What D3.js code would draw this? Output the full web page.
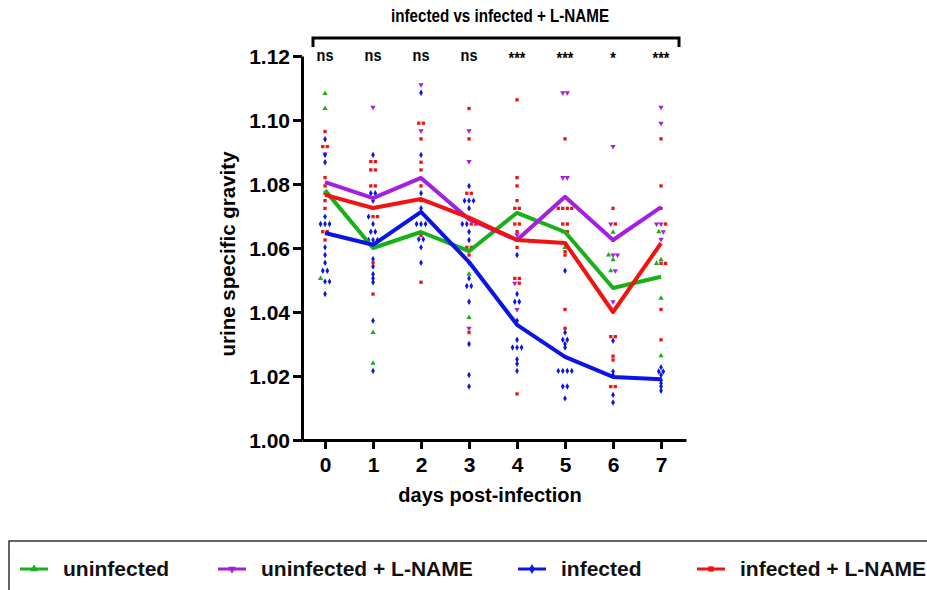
<!DOCTYPE html>
<html>
<head>
<meta charset="utf-8">
<script src="https://cdn.jsdelivr.net/npm/d3@7"></script>
<style>
  body { margin: 0; background: #fff; }
  svg { display: block; font-family: "Liberation Sans", Arial, sans-serif; }
</style>
</head>
<body>
<div id="chart"></div>
<script>
// data
const days = [0, 1, 2, 3, 4, 5, 6, 7];
const yTicks = [1.00, 1.02, 1.04, 1.06, 1.08, 1.10, 1.12];
const sigLabels = ["ns", "ns", "ns", "ns", "***", "***", "*", "***"];
const groupNames = ["uninfected", "uninfected + L-NAME", "infected", "infected + L-NAME"];
const groupColors = ["#17b017", "#a41fe0", "#0a14e6", "#f21212"];

// group means per day
const meanUninf  = [1.078, 1.060, 1.065, 1.059, 1.071, 1.065, 1.0475, 1.051];
const meanUninfL = [1.0806, 1.0756, 1.0819, 1.069, 1.0625, 1.076, 1.0625, 1.0728];
const meanInf    = [1.0647, 1.061, 1.0713, 1.0556, 1.036, 1.026, 1.0197, 1.019];
const meanInfL   = [1.0766, 1.0725, 1.0753, 1.0695, 1.0625, 1.0616, 1.040, 1.0615];

// individual animals per day
const ptsUninf = [
  [1.1083, 1.1036, 1.0505],
  [1.0336, 1.0240],
  [],
  [1.0518, 1.0383],
  [],
  [1.0602],
  [1.0649, 1.0578, 1.0563, 1.0529],
  [1.0651, 1.0563, 1.0552, 1.0443, 1.0263]
];
const ptsUninfL = [
  [1.0894],
  [1.104],
  [1.111, 1.0966],
  [1.0966, 1.087, 1.0349],
  [1.0641, 1.049, 1.0408],
  [1.1085, 1.1085, 1.082, 1.082],
  [1.0917, 1.0675, 1.0578, 1.0578, 1.0529, 1.0432],
  [1.104, 1.099, 1.0675, 1.0675, 1.0651, 1.0627]
];
const ptsInf = [
  [1.094, 1.0891, 1.0868, 1.0698, 1.0675, 1.0675, 1.0675, 1.0602, 1.0578, 1.0554, 1.0529, 1.0529, 1.0495, 1.0495, 1.0456],
  [1.0891, 1.0771, 1.0771, 1.0748, 1.0698, 1.0675, 1.0651, 1.0651, 1.0625, 1.0625, 1.0625, 1.0566, 1.0542, 1.0518, 1.0505, 1.0493, 1.0373, 1.0216],
  [1.1085, 1.0891, 1.0771, 1.0724, 1.0675, 1.0675, 1.0675, 1.0627, 1.0627, 1.0602, 1.0554],
  [1.0794, 1.0748, 1.0748, 1.0748, 1.0724, 1.0675, 1.0675, 1.0651, 1.0625, 1.0554, 1.0505, 1.0481, 1.0481, 1.0432, 1.030, 1.0203, 1.0167],
  [1.0578, 1.0456, 1.0432, 1.0432, 1.0373, 1.0313, 1.0289, 1.0289, 1.0289, 1.0252, 1.0238, 1.0216],
  [1.0529, 1.0336, 1.0313, 1.0313, 1.030, 1.0289, 1.0216, 1.0216, 1.0216, 1.0216, 1.0167, 1.0167, 1.013],
  [1.031, 1.0214, 1.0203, 1.0141, 1.0117],
  [1.0227, 1.0214, 1.0214, 1.0203, 1.0187, 1.0177, 1.0167, 1.0154]
];
const ptsInfL = [
  [1.0964, 1.0917, 1.0917, 1.082, 1.0794, 1.0771, 1.0748, 1.0724, 1.0651, 1.0651, 1.0625],
  [1.087, 1.087, 1.0844, 1.0844, 1.0794, 1.0794, 1.0724, 1.0698, 1.0698, 1.0554, 1.0456],
  [1.099, 1.099, 1.0941, 1.0868, 1.0844, 1.0794, 1.0748, 1.0639, 1.0493],
  [1.1036, 1.0941, 1.0771, 1.0771, 1.0675, 1.0675, 1.0602, 1.0602, 1.0578, 1.0336],
  [1.1063, 1.082, 1.0794, 1.0748, 1.0724, 1.0724, 1.0675, 1.0675, 1.0651, 1.0627, 1.0602, 1.0505, 1.0505, 1.049, 1.0144],
  [1.0941, 1.0724, 1.0724, 1.0724, 1.0724, 1.0675, 1.0675, 1.0651, 1.0651, 1.0589, 1.0578, 1.0408, 1.0349],
  [1.0724, 1.0675, 1.0625, 1.0323, 1.0323, 1.0262, 1.025, 1.0167, 1.0167],
  [1.0941, 1.0794, 1.0724, 1.0675, 1.0552, 1.0552, 1.0408, 1.0313]
];

const means = [meanUninf, meanUninfL, meanInf, meanInfL];
const points = [ptsUninf, ptsUninfL, ptsInf, ptsInfL];
const symbols = [d3.symbolTriangle, d3.symbolTriangle, d3.symbolDiamond, d3.symbolSquare];

const W = 927, H = 590;
const svg = d3.select('#chart').append('svg')
  .attr('width', W).attr('height', H);

const x = d3.scaleLinear().domain([-0.48, 7.52]).range([302, 686]);
const y = d3.scaleLinear().domain([1.00, 1.12]).range([440, 56]);

// points, spread sideways when they share a row
days.forEach(day => {
  const all = [];
  points.forEach((grp, gi) => grp[day].forEach(v => all.push({g: gi, v: v})));
  const rows = d3.group(all, d => Math.round(y(d.v) / 4));
  rows.forEach(list => {
    list.forEach((d, i) => {
      const dx = (i - (list.length - 1) / 2) * 4.5;
      const rot = d.g === 1 ? 180 : 0;
      svg.append('path')
        .attr('d', d3.symbol().type(symbols[d.g]).size(d.g === 3 ? 11 : 12)())
        .attr('transform', `translate(${x(day) + dx},${y(d.v)}) rotate(${rot})`)
        .attr('fill', groupColors[d.g]);
    });
  });
});

// mean lines
const line = d3.line().x((d, i) => x(days[i])).y(d => y(d));
means.forEach((m, gi) => {
  svg.append('path')
    .attr('d', line(m))
    .attr('fill', 'none')
    .attr('stroke', groupColors[gi])
    .attr('stroke-width', 4)
    .attr('stroke-linejoin', 'round');
});

// axes
const yAxis = svg.append('g')
  .attr('transform', 'translate(302,0)')
  .call(d3.axisLeft(y).tickValues(yTicks).tickFormat(d3.format('.2f')).tickSize(9).tickSizeOuter(0));
const xAxis = svg.append('g')
  .attr('transform', 'translate(0,440)')
  .call(d3.axisBottom(x).tickValues(days).tickFormat(d3.format('d')).tickSize(9).tickSizeOuter(0));
[yAxis, xAxis].forEach(ax => {
  ax.select('.domain').attr('stroke', '#000').attr('stroke-width', 3);
  ax.selectAll('.tick line').attr('stroke', '#000').attr('stroke-width', 3);
  ax.selectAll('.tick text')
    .attr('fill', '#000')
    .style('font-size', '21px')
    .style('font-weight', 'bold')
    .style('font-family', '"Liberation Sans", Arial, sans-serif');
});
yAxis.selectAll('.tick text').attr('x', -12).attr('dy', '0.36em');
xAxis.selectAll('.tick text').attr('y', 17);

svg.append('text')
  .attr('x', 490).attr('y', 502)
  .attr('text-anchor', 'middle')
  .style('font-size', '20px').style('font-weight', 'bold')
  .text('days post-infection');

svg.append('text')
  .attr('transform', 'translate(235,254) rotate(-90)')
  .attr('text-anchor', 'middle')
  .style('font-size', '20.5px').style('font-weight', 'bold')
  .text('urine specific gravity');

// significance bracket (condensed bold text)
svg.append('path')
  .attr('d', 'M313,47 V38 H679 V47')
  .attr('fill', 'none').attr('stroke', '#000').attr('stroke-width', 3);
svg.append('text')
  .attr('transform', 'translate(500,22) scale(0.8,1)')
  .attr('text-anchor', 'middle')
  .style('font-size', '19px').style('font-weight', 'bold')
  .text('infected vs infected + L-NAME');
svg.selectAll('.sig')
  .data(sigLabels)
  .enter().append('text')
  .attr('class', 'sig')
  .attr('transform', (d, i) => `translate(${x(days[i])},${d === 'ns' ? 61 : 64}) scale(0.85,1)`)
  .attr('text-anchor', 'middle')
  .style('font-size', '17px')
  .style('font-weight', 'bold')
  .text(d => d);

// legend
svg.append('rect')
  .attr('x', 9).attr('y', 541).attr('width', 940).attr('height', 70)
  .attr('fill', 'none').attr('stroke', '#333').attr('stroke-width', 1.5);
const legX = [20, 218, 518, 697];
groupNames.forEach((name, gi) => {
  const g = svg.append('g').attr('transform', `translate(${legX[gi]},569)`);
  g.append('line')
    .attr('x1', 0).attr('x2', 28)
    .attr('stroke', groupColors[gi]).attr('stroke-width', 3);
  g.append('path')
    .attr('d', d3.symbol().type(symbols[gi]).size(28)())
    .attr('transform', `translate(14,0) rotate(${gi === 1 ? 180 : 0})`)
    .attr('fill', groupColors[gi]);
  g.append('text')
    .attr('x', 43).attr('y', 7)
    .style('font-size', '21px')
    .style('font-weight', 'bold')
    .attr('fill', '#111')
    .text(name);
});
</script>
</body>
</html>
